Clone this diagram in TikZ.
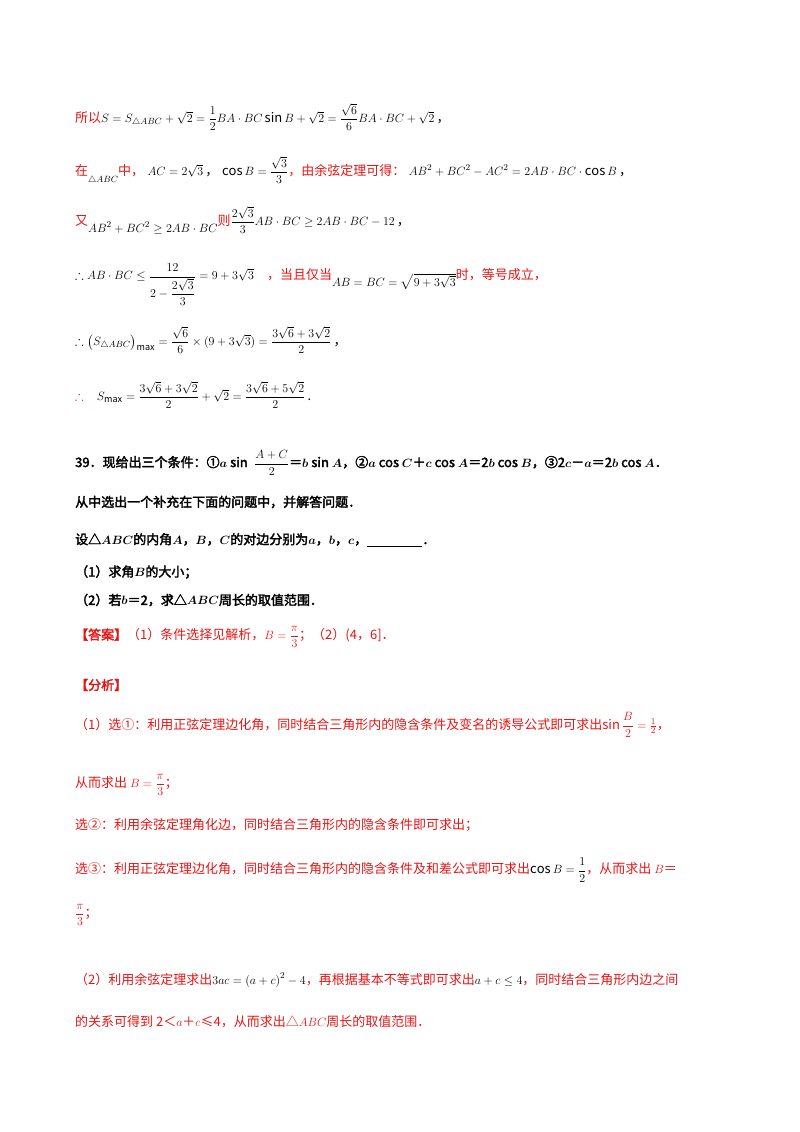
\documentclass[tikz,border=0pt]{standalone}
\usepackage{amsmath,amssymb}
\usepackage{fontspec}
\setmainfont{Noto Sans CJK SC}[AutoFakeBold=2.5]
\definecolor{rd}{RGB}{230,20,20}
\newcommand{\lowm}[1]{\raisebox{-7pt}{$#1$}}
\begin{document}
\begin{tikzpicture}[x=1pt,y=1pt,
  t/.style={anchor=west,inner sep=0pt,font=\fontsize{13}{15}\selectfont},
  b/.style={t,font=\fontsize{13}{15}\selectfont\bfseries},
  r/.style={t,text=rd}]
\useasboundingbox (0,0) rectangle (800,-1132);
\node[t] (l1) at (75,-117) {\textcolor{rd}{所以}$S=S_{\triangle ABC}+\sqrt2=\dfrac12 BA\cdot BC\sin B+\sqrt2=\dfrac{\sqrt6}{6}BA\cdot BC+\sqrt2$\,，};
\node[t] (l2) at (75,-170) {\textcolor{rd}{在}\lowm{\scriptstyle\triangle ABC}\textcolor{rd}{中，}\;$AC=2\sqrt3$\,，\;$\cos B=\dfrac{\sqrt3}{3}$\textcolor{rd}{，由余弦定理可得：}\;$AB^2+BC^2-AC^2=2AB\cdot BC\cdot\cos B$\,，};
\node[t] (l3) at (75,-220) {\textcolor{rd}{又}\lowm{AB^2+BC^2\ge 2AB\cdot BC}\textcolor{rd}{则}$\dfrac{2\sqrt3}{3}AB\cdot BC\ge 2AB\cdot BC-12$\,，};
\node[t] (l4) at (75,-285) {$\therefore AB\cdot BC\le\dfrac{12}{2-\dfrac{2\sqrt3}{3}}=9+3\sqrt3$\quad\textcolor{rd}{，当且仅当}\lowm{AB=BC=\sqrt{9+3\sqrt3}}\textcolor{rd}{时，等号成立，}};
\node[t] (l5) at (75,-340) {$\therefore\left(S_{\triangle ABC}\right)_{\max}=\dfrac{\sqrt6}{6}\times(9+3\sqrt3)=\dfrac{3\sqrt6+3\sqrt2}{2}$\,，};
\node[t] (l6) at (75,-395) {\textcolor{rd}{$\therefore$}\quad$S_{\max}=\dfrac{3\sqrt6+3\sqrt2}{2}+\sqrt2=\dfrac{3\sqrt6+5\sqrt2}{2}$\,.};
\node[b] (q1) at (75,-463) {39．现给出三个条件：①$\boldsymbol{a}$ sin \;$\dfrac{A+C}{2}$＝$\boldsymbol{b}$ sin $\boldsymbol{A}$，②$\boldsymbol{a}$ cos $\boldsymbol{C}$＋$\boldsymbol{c}$ cos $\boldsymbol{A}$＝2$\boldsymbol{b}$ cos $\boldsymbol{B}$，③2$\boldsymbol{c}$－$\boldsymbol{a}$＝2$\boldsymbol{b}$ cos $\boldsymbol{A}$．};
\node[b] (q2) at (75,-502) {从中选出一个补充在下面的问题中，并解答问题．};
\node[b] (q3) at (75,-540) {设△$\boldsymbol{ABC}$的内角$\boldsymbol{A}$，$\boldsymbol{B}$，$\boldsymbol{C}$的对边分别为$\boldsymbol{a}$，$\boldsymbol{b}$，$\boldsymbol{c}$，\underline{\hspace{55pt}}．};
\node[b] (q4) at (75,-572) {（1）求角$\boldsymbol{B}$的大小；};
\node[b] (q5) at (75,-600) {（2）若$\boldsymbol{b}$＝2，求△$\boldsymbol{ABC}$周长的取值范围．};
\node[r] (a1) at (75,-637) {\textbf{【答案】}（1）条件选择见解析，$B=\dfrac{\pi}{3}$；（2）(4，6]．};
\node[r] (a2) at (75,-685) {\textbf{【分析】}};
\node[r] (a3) at (75,-725) {（1）选①：利用正弦定理边化角，同时结合三角形内的隐含条件及变名的诱导公式即可求出$\sin\dfrac B2=\frac12$，};
\node[r] (a4) at (75,-785) {从而求出 $B=\dfrac{\pi}{3}$；};
\node[r] (a5) at (75,-825) {选②：利用余弦定理角化边，同时结合三角形内的隐含条件即可求出；};
\node[r] (a6) at (75,-870) {选③：利用正弦定理边化角，同时结合三角形内的隐含条件及和差公式即可求出\textcolor{black}{$\cos B=\dfrac12$}，从而求出 $B$＝};
\node[r] (a7) at (75,-915) {$\dfrac{\pi}{3}$；};
\node[r] (a8) at (75,-980) {（2）利用余弦定理求出\textcolor{black}{$3ac=\left(a+c\right)^2-4$}，再根据基本不等式即可求出\textcolor{black}{$a+c\le4$}，同时结合三角形内边之间};
\node[r] (a9) at (75,-1022) {的关系可得到 2＜$a$＋$c$≤4，从而求出△$ABC$周长的取值范围．};
\end{tikzpicture}
\end{document}
